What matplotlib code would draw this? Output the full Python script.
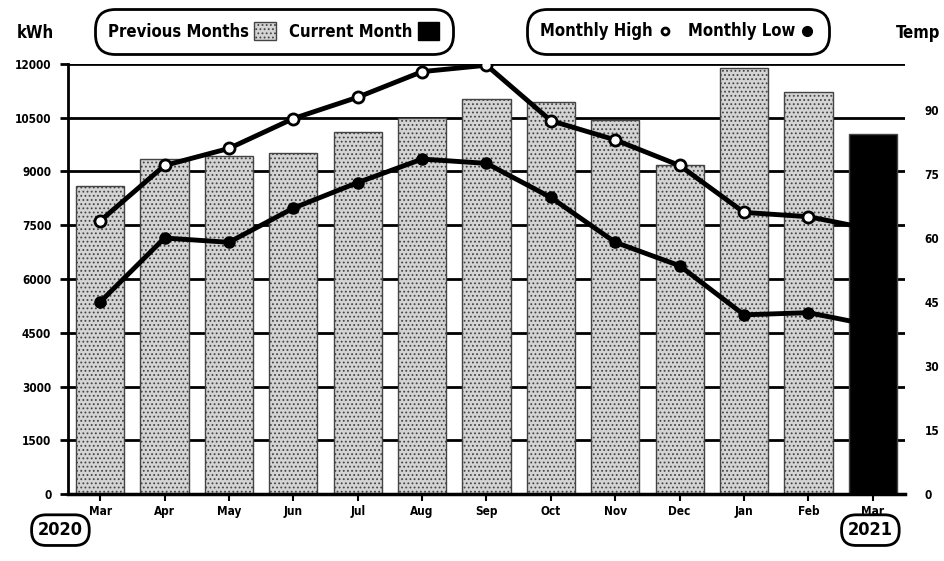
import matplotlib
matplotlib.use("Agg")
import matplotlib.pyplot as plt
from matplotlib.patches import Patch
from matplotlib.lines import Line2D
import numpy as np

# monthly usage (kWh) and temperatures, Mar 2020 - Mar 2021
months = ["Mar", "Apr", "May", "Jun", "Jul", "Aug", "Sep",
          "Oct", "Nov", "Dec", "Jan", "Feb", "Mar"]
kwh = [8600, 9350, 9430, 9520, 10100, 10490, 11020,
       10940, 10440, 9180, 11890, 11220, 10050]
temp_high = [64, 77, 81, 88, 93, 99, 100.5, 87.5, 83, 77, 66, 65, 62]
temp_low = [45, 60, 59, 67, 73, 78.5, 77.5, 69.5, 59, 53.5, 42, 42.5, 39.5]
kwh_ticks = [0, 1500, 3000, 4500, 6000, 7500, 9000, 10500, 12000]
temp_ticks = [0, 15, 30, 45, 60, 75, 90]

plt.rcParams["font.family"] = ["DejaVu Sans"]
plt.rcParams["font.stretch"] = "condensed"
plt.rcParams["font.weight"] = "bold"
plt.rcParams["hatch.linewidth"] = 0.8

fig = plt.figure(figsize=(9.44, 5.61), dpi=100)
ax = fig.add_axes([0.072, 0.1194, 0.8867, 0.7666])

x = np.arange(len(months))
colors = ["#d4d4d4"] * (len(months) - 1) + ["black"]
hatches = ["...."] * (len(months) - 1) + [""]
for xi, val, c, h in zip(x, kwh, colors, hatches):
    ax.bar(xi, val, width=0.75, color=c, edgecolor="#444444",
           hatch=h, linewidth=1.0, zorder=2)

ax.set_xlim(-0.5, len(months) - 0.5)
ax.set_ylim(0, 12000)
ax.set_yticks(kwh_ticks)
ax.set_yticklabels([str(t) for t in kwh_ticks], fontsize=8.5, fontweight="bold")
ax.set_xticks(x)
ax.set_xticklabels(months, fontsize=8.5, fontweight="bold")
ax.yaxis.grid(True, color="black", linewidth=2, zorder=0)
ax.set_axisbelow(True)
ax.tick_params(axis="y", length=6, width=2, pad=6)
ax.tick_params(axis="x", length=5, width=1.5, pad=3)
for side in ["top", "right"]:
    ax.spines[side].set_visible(False)
ax.spines["left"].set_linewidth(2)
ax.spines["bottom"].set_linewidth(2.5)

ax2 = ax.twinx()
ax2.set_ylim(0, 100.8)
ax2.set_yticks(temp_ticks)
ax2.set_yticklabels([str(t) for t in temp_ticks], fontsize=8.5, fontweight="bold")
ax2.tick_params(axis="y", length=0, pad=14)
for side in ["top", "right", "left", "bottom"]:
    ax2.spines[side].set_visible(False)

# the current month's markers disappear into the black bar
shown = list(range(len(months) - 1))
ax2.plot(x, temp_high, color="black", linewidth=3.5, marker="o",
         markersize=8, markerfacecolor="white", markeredgecolor="black",
         markeredgewidth=2, markevery=shown, zorder=3)
ax2.plot(x, temp_low, color="black", linewidth=3.5, marker="o",
         markersize=8, markerfacecolor="black", markeredgecolor="black",
         markevery=shown, zorder=3)

# axis titles
fig.text(0.037, 0.941, "kWh", fontsize=12, fontweight="bold",
         ha="center", va="center")
fig.text(0.972, 0.941, "Temp", fontsize=12, fontweight="bold",
         ha="center", va="center")

# legends
bar_handles = [Patch(facecolor="#d4d4d4", edgecolor="#444444", hatch="...."),
               Patch(facecolor="black", edgecolor="black")]
leg1 = fig.legend(bar_handles, ["Previous Months", "Current Month"],
                  loc="center", bbox_to_anchor=(0.29, 0.944), ncol=2,
                  markerfirst=False, fontsize=12, frameon=True,
                  handlelength=1.3, handleheight=1.3, columnspacing=0.8,
                  handletextpad=0.3, borderpad=0.6)
line_handles = [Line2D([], [], linestyle="none", marker="o", markersize=5,
                       markerfacecolor="white", markeredgecolor="black",
                       markeredgewidth=2),
                Line2D([], [], linestyle="none", marker="o", markersize=7,
                       markerfacecolor="black", markeredgecolor="black")]
leg2 = fig.legend(line_handles, ["Monthly High", "Monthly Low"],
                  loc="center", bbox_to_anchor=(0.718, 0.944), ncol=2,
                  markerfirst=False, fontsize=12, frameon=True,
                  handlelength=1.0, columnspacing=0.9,
                  handletextpad=0.2, borderpad=0.6)
for leg in (leg1, leg2):
    frame = leg.get_frame()
    frame.set_edgecolor("black")
    frame.set_linewidth(2)
    frame.set_alpha(1)
    frame.set_boxstyle("round,pad=0.2,rounding_size=1.2")

# year labels
box = dict(boxstyle="round,pad=0.35,rounding_size=0.8", facecolor="white",
           edgecolor="black", linewidth=2)
fig.text(0.064, 0.055, "2020", fontsize=13, fontweight="bold",
         ha="center", va="center", bbox=box)
fig.text(0.922, 0.055, "2021", fontsize=13, fontweight="bold",
         ha="center", va="center", bbox=box)

fig.savefig("out.png", dpi=100)
